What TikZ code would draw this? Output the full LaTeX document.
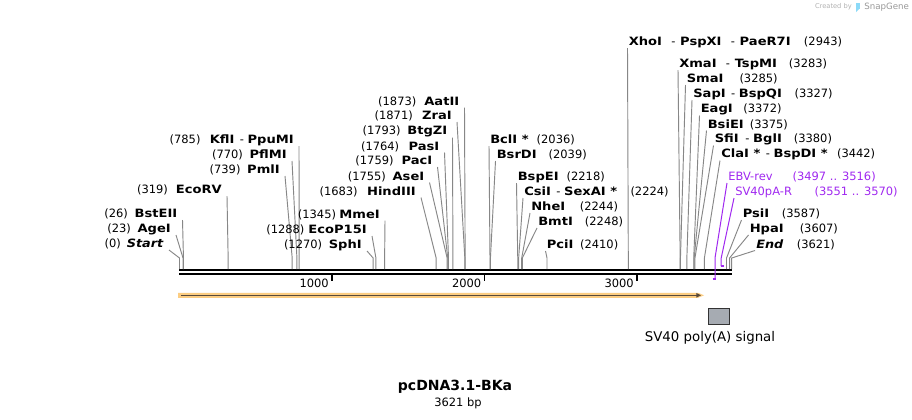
\documentclass[tikz,border=0pt]{standalone}
\usepackage{fontspec}
\setmainfont{DejaVu Sans}[BoldFeatures={FakeStretch=1.14},BoldItalicFeatures={FakeStretch=1.12}]
\newfontfamily\titlefont{DejaVu Sans Bold}
\usetikzlibrary{arrows.meta}
\definecolor{conngray}{RGB}{135,135,135}
\definecolor{primer}{RGB}{160,40,240}
\definecolor{featorange}{RGB}{252,205,130}
\definecolor{featdark}{RGB}{88,74,60}
\definecolor{boxgray}{RGB}{166,171,178}
\newcommand\bn[1]{\textbf{#1}}
\newcommand\bi[1]{\textbf{\textit{#1}}}
\newcommand\wsep{\hspace{7pt}-\hspace{3.5pt}}
% left label: id, bp, text right x, text centre y, number, name, gap
\newcommand\Lsite[7]{%
  \node[lab,anchor=east] (#1) at (#3,#4) {(#5)\hspace{#7}#6};
  \coordinate (#1p) at ({179.5+0.1525*#2},258);
  \draw[conn] ([shift={(5,6)}]#1.east) -- (#1p) -- ++(0,11);}
% right label: id, bp, text left x, text centre y, name, number, gap
\newcommand\Rsite[7]{%
  \node[lab,anchor=west] (#1) at (#3,#4) {#5\hspace{#7}(#6)};
  \coordinate (#1p) at ({179.5+0.1525*#2},258);
  \draw[conn] ([shift={(-1,6)}]#1.west) -- (#1p) -- ++(0,11);}
\begin{document}
\begin{tikzpicture}[x=0.75pt,y=-0.75pt,
  lab/.style={inner sep=0pt,font=\fontsize{8.6}{10}\selectfont},
  plab/.style={lab,text=primer},
  conn/.style={draw=conngray,line width=0.7pt},
  seq/.style={line width=1.3pt,black},
  tick/.style={line width=1.4pt,black}]
\fill[white] (0,0) rectangle (912,419);
\useasboundingbox (0,0) rectangle (912,419);

% watermark
\node[inner sep=0pt,text=black!30,font=\fontsize{5}{6}\selectfont,anchor=east] (wm1) at (852,7) {Created by};
\fill[cyan!45] (856,3) rectangle (859.5,8.5);
\fill[cyan!45] (856,8.5) -- (859.5,8.5) -- (856,12) -- cycle;
\node[inner sep=0pt,text=black!40,font=\fontsize{6.5}{7}\selectfont,anchor=west] (wm2) at (864,7) {SnapGene};

% sequence line
\draw[seq] (179,269.8) -- (732,269.8);
\draw[seq] (179,273.8) -- (732,273.8);
\foreach \k/\x in {1000/332,2000/484.5,3000/637}{
  \draw[tick] (\x,274) -- (\x,281);
  \node[lab,anchor=east] (t\k) at (\x-3,283) {\k};
}

% left-hand labels
\Lsite{start}{0}{164}{244}{0}{\bi{Start}}{4.5pt}
\Lsite{age}{23}{171}{229}{23}{\bn{AgeI}}{5pt}
\Lsite{bste}{26}{177.5}{214}{26}{\bn{BstEII}}{5pt}
\Lsite{ecorv}{319}{222}{190}{319}{\bn{EcoRV}}{6pt}
\Lsite{pml}{739}{280}{170}{739}{\bn{PmlI}}{5pt}
\Lsite{pfl}{770}{287}{155}{770}{\bn{PflMI}}{5pt}
\Lsite{kfl}{785}{294}{140}{785}{\bn{KflI}\hspace{4pt}- \bn{PpuMI}}{7pt}
\Lsite{sph}{1270}{362}{245}{1270}{\bn{SphI}}{5pt}
\Lsite{ecop}{1288}{367}{230}{1288}{\bn{EcoP15I}}{3pt}
\Lsite{mme}{1345}{380}{214.5}{1345}{\bn{MmeI}}{2.5pt}
\Lsite{hind}{1683}{416}{191.5}{1683}{\bn{HindIII}}{7pt}
\Lsite{ase}{1755}{424.5}{176.5}{1755}{\bn{AseI}}{5pt}
\Lsite{pac}{1759}{432.5}{161}{1759}{\bn{PacI}}{6pt}
\Lsite{pas}{1764}{439.5}{146.5}{1764}{\bn{PasI}}{7pt}
\Lsite{btg}{1793}{447.5}{131.5}{1793}{\bn{BtgZI}}{5pt}
\Lsite{zra}{1871}{452}{116}{1871}{\bn{ZraI}}{7pt}
\Lsite{aat}{1873}{459.5}{101.5}{1873}{\bn{AatII}}{6pt}

% right-hand labels
\Rsite{bcl}{2036}{490}{140}{\bn{BclI *}}{2036}{6pt}
\Rsite{bsrd}{2039}{496.5}{155}{\bn{BsrDI}}{2039}{9pt}
\Rsite{bspe}{2218}{517.5}{177}{\bn{BspEI}}{2218}{6pt}
\Rsite{csi}{2224}{524}{192}{\bn{CsiI}\hspace{4pt}- \bn{SexAI *}}{2224}{10pt}
\Rsite{nhe}{2244}{531}{207}{\bn{NheI}}{2244}{11pt}
\Rsite{bmt}{2248}{538}{222}{\bn{BmtI}}{2248}{9pt}
\Rsite{pci}{2410}{546.5}{245}{\bn{PciI}}{2410}{5pt}
\Rsite{xho}{2943}{628.5}{42}{\bn{XhoI}\wsep\bn{PspXI}\wsep\bn{PaeR7I}}{2943}{10pt}
\Rsite{xma}{3283}{679}{64}{\bn{XmaI}\wsep\bn{TspMI}}{3283}{9pt}
\Rsite{sma}{3285}{686.5}{79}{\bn{SmaI}}{3285}{12pt}
\Rsite{sap}{3327}{693}{94}{\bn{SapI}\hspace{4pt}- \bn{BspQI}}{3327}{9.5pt}
\Rsite{eag}{3372}{700.5}{109.5}{\bn{EagI}}{3372}{8pt}
\Rsite{bsie}{3375}{707.5}{124.5}{\bn{BsiEI}}{3375}{4.5pt}
\Rsite{sfi}{3380}{714.5}{139.5}{\bn{SfiI}\hspace{5pt}- \bn{BglI}}{3380}{9pt}
\Rsite{cla}{3442}{721}{154.5}{\bn{ClaI *}\hspace{4pt}- \bn{BspDI *}}{3442}{7pt}
\Rsite{psi}{3587}{742.5}{214}{\bn{PsiI}}{3587}{9.5pt}
\Rsite{hpa}{3607}{749.5}{229}{\bn{HpaI}}{3607}{12pt}
\Rsite{end}{3621}{756}{244.5}{\bi{End}}{3621}{10pt}

% primers
\node[plab,anchor=west] (ebv) at (728,177) {EBV-rev\hspace{15pt}(3497 .. 3516)};
\node[plab,anchor=west] (svr) at (735,192) {SV40pA-R\hspace{17pt}(3551 .. 3570)};
\coordinate (ebvp) at (715,258);
\coordinate (svrp) at (721.2,258);
\draw[primer,line width=0.75pt] ([shift={(-1,6)}]ebv.west) -- (ebvp) -- ++(0,21);
\draw[primer,line width=1.5pt] (712.6,279) -- (715.6,279);
\draw[primer,line width=0.75pt] ([shift={(-1,6)}]svr.west) -- (svrp) -- ++(0,8);
\draw[primer,line width=1.5pt] (720.8,266) -- (723.8,266);

% feature arrow (ORF)
\fill[featorange] (178,292.8) -- (698,292.8) -- (704,295.3) -- (698,297.8) -- (178,297.8) -- cycle;
\draw[featdark,line width=0.9pt,-{Triangle[length=3.5pt,width=3.2pt]}] (181,295.3) -- (701,295.3);

% SV40 poly(A) signal
\node[draw=black!80,line width=0.6pt,fill=boxgray,minimum width=15.75pt,minimum height=12pt,inner sep=0pt] (polya) at (718.5,316) {};
\node[inner sep=0pt,font=\fontsize{10}{11}\selectfont,anchor=north] (polyalab) at (710,331) {SV40 poly(A) signal};

% title
\node[inner sep=0pt,font=\titlefont\fontsize{10.5}{12}\selectfont] (title) at (455,387) {pcDNA3.1-BKa};
\node[lab] (len) at (458,403) {3621 bp};
\end{tikzpicture}
\end{document}
